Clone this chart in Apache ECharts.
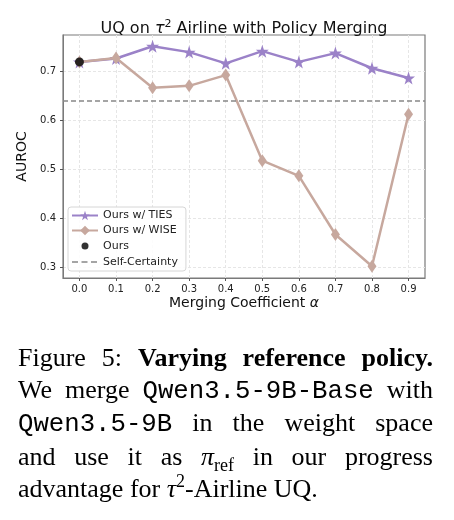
<!DOCTYPE html>
<html>
<head>
<meta charset="utf-8">
<script src="https://cdn.jsdelivr.net/npm/echarts@6/dist/echarts.min.js"></script>
<style>
  html, body { margin: 0; padding: 0; background: #fff; }
  #wrap { position: relative; width: 454px; height: 520px; overflow: hidden; }
  #chart { position: absolute; left: 0; top: 0; width: 454px; height: 520px; }
  #caption {
    position: absolute; left: 18px; top: 342px; width: 415px;
    font-family: "Liberation Serif", "Times New Roman", serif;
    font-size: 26px; line-height: 31.7px; color: #000;
  }
  #caption .ln { text-align: justify; text-align-last: justify; white-space: nowrap; }
  #caption .ln.last { text-align-last: left; }
  #caption .tt { font-family: "Liberation Mono", monospace; font-size: 25.7px; }
  #caption sub, #caption sup { line-height: 0; font-size: 18px; }
</style>
</head>
<body>
<div id="wrap">
  <div id="chart"></div>
  <div id="caption">
    <div class="ln">Figure 5: <b>Varying reference policy.</b></div>
    <div class="ln">We merge <span class="tt">Qwen3.5-9B-Base</span> with</div>
    <div class="ln"><span class="tt">Qwen3.5-9B</span> in the weight space</div>
    <div class="ln">and use it as <i>&pi;</i><sub>ref</sub> in our progress</div>
    <div class="ln last">advantage for <i>&tau;</i><sup>2</sup>-Airline UQ.</div>
  </div>
</div>
<script>
  // merging coefficient alpha
  const alphas = [0.0, 0.1, 0.2, 0.3, 0.4, 0.5, 0.6, 0.7, 0.8, 0.9];
  const tiesAuroc = [0.720, 0.727, 0.752, 0.740, 0.717, 0.742, 0.720, 0.738, 0.707, 0.687];
  const wiseAuroc = [0.720, 0.728, 0.667, 0.671, 0.693, 0.518, 0.487, 0.367, 0.302, 0.613];
  const oursPoint = [0.0, 0.720];
  const selfCertainty = 0.643;
  const xTicks = [0.0, 0.1, 0.2, 0.3, 0.4, 0.5, 0.6, 0.7, 0.8, 0.9];
  const yTicks = [0.3, 0.4, 0.5, 0.6, 0.7];

  const purple = '#9b82c8';
  const rose = '#c7a89e';
  const gray = '#888';
  const font = 'DejaVu Sans';
  const star = 'path://M50,0 L61.8,35.1 L98.1,35.1 L68.8,56.7 L79.4,91 L50,70 L20.6,91 L31.2,56.7 L1.9,35.1 L38.2,35.1 Z';
  // legend icons drawn inside a 26x12 box
  const dotIcon = 'path://M0,0 M26,12 M16.5,6 A3.5,3.5 0 1 0 9.5,6 A3.5,3.5 0 1 0 16.5,6 Z';
  const dashIcon = 'path://M0,0 M26,12 M0,5.2 h6 v1.6 h-6 Z M9.5,5.2 h6 v1.6 h-6 Z M19,5.2 h6 v1.6 h-6 Z';

  const pairs = (ys) => alphas.map((a, i) => [a, ys[i]]);

  const chart = echarts.init(document.getElementById('chart'), null, { renderer: 'canvas' });
  chart.setOption({
    animation: false,
    textStyle: { fontFamily: font },
    title: {
      text: 'UQ on {i|τ}{sup|2} Airline with Policy Merging',
      left: 239, top: 14, textAlign: 'center',
      textStyle: {
        fontFamily: font, fontSize: 16, fontWeight: 'normal', color: '#111',
        rich: {
          i: { fontFamily: font, fontSize: 16, fontStyle: 'italic', color: '#111' },
          sup: { fontFamily: font, fontSize: 11, color: '#111', padding: [0, 0, 8, 0] }
        }
      }
    },
    grid: {
      left: 63, right: 29, top: 35, bottom: 242,
      show: true, borderColor: '#7a7a7a', borderWidth: 1.2
    },
    legend: {
      orient: 'vertical', left: 68, top: 207,
      backgroundColor: 'rgba(255,255,255,0.85)',
      borderColor: '#d6d6d6', borderWidth: 1, borderRadius: 3,
      padding: [3, 8, 3, 3], itemGap: 4, itemWidth: 26, itemHeight: 12,
      textStyle: { fontFamily: font, fontSize: 11, color: '#222' },
      data: [
        'Ours w/ TIES',
        'Ours w/ WISE',
        { name: 'Ours', icon: dotIcon },
        { name: 'Self-Certainty', icon: dashIcon }
      ]
    },
    xAxis: {
      type: 'value', min: -0.045, max: 0.945,
      name: 'Merging Coefficient {i|α}', nameLocation: 'middle', nameGap: 18,
      nameTextStyle: {
        fontFamily: font, fontSize: 14, color: '#111',
        rich: { i: { fontFamily: font, fontSize: 14, fontStyle: 'italic', color: '#111' } }
      },
      axisLine: { show: true, onZero: false, lineStyle: { color: '#7a7a7a' } },
      axisTick: { show: true, length: 3, customValues: xTicks, lineStyle: { color: '#555' } },
      axisLabel: {
        customValues: xTicks, margin: 6, fontSize: 10, color: '#222',
        formatter: (v) => v.toFixed(1)
      },
      splitLine: { show: true, lineStyle: { color: '#e6e6e6', type: [3, 2] } }
    },
    yAxis: {
      type: 'value', min: 0.278, max: 0.775,
      name: 'AUROC', nameLocation: 'middle', nameGap: 33, nameRotate: 90,
      nameTextStyle: { fontFamily: font, fontSize: 14, color: '#111' },
      axisLine: { show: true, onZero: false, lineStyle: { color: '#7a7a7a' } },
      axisTick: { show: true, length: 3, customValues: yTicks, lineStyle: { color: '#555' } },
      axisLabel: {
        customValues: yTicks, margin: 7, fontSize: 10, color: '#222',
        formatter: (v) => v.toFixed(1)
      },
      splitLine: { show: true, lineStyle: { color: '#e6e6e6', type: [3, 2] } }
    },
    series: [
      {
        name: 'Ours w/ TIES', type: 'line', data: pairs(tiesAuroc),
        symbol: star, symbolSize: 13,
        lineStyle: { color: purple, width: 2.5 },
        itemStyle: { color: purple }, z: 2
      },
      {
        name: 'Ours w/ WISE', type: 'line', data: pairs(wiseAuroc),
        symbol: 'diamond', symbolSize: [9, 13],
        lineStyle: { color: rose, width: 2.5 },
        itemStyle: { color: rose }, z: 3
      },
      {
        name: 'Ours', type: 'scatter', data: [oursPoint],
        symbol: 'circle', symbolSize: 9,
        itemStyle: { color: '#000' }, z: 5
      },
      {
        name: 'Self-Certainty', type: 'line', data: [],
        symbol: 'none',
        lineStyle: { color: gray, width: 1.5, type: [5, 3] },
        itemStyle: { color: gray },
        markLine: {
          silent: true, symbol: 'none', label: { show: false },
          lineStyle: { color: gray, width: 1.5, type: [5, 3] },
          data: [{ yAxis: selfCertainty }]
        }, z: 1
      }
    ]
  });
</script>
</body>
</html>
